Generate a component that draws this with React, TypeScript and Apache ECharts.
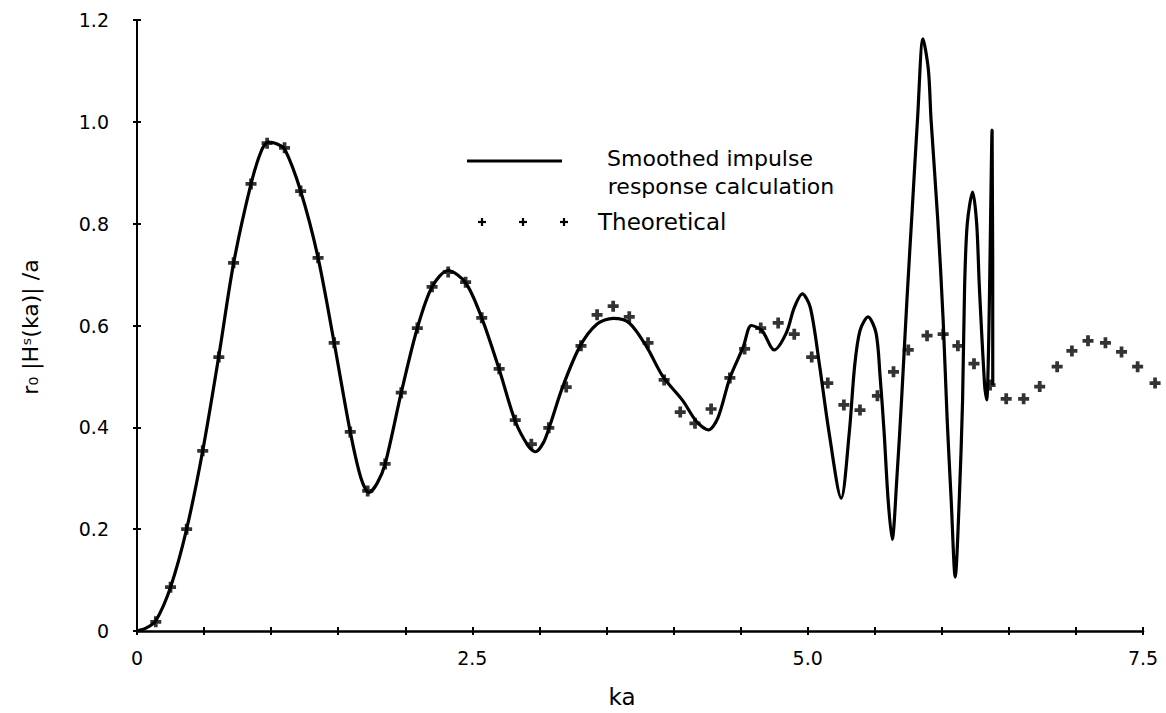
import React, { useEffect, useRef } from "react";
import * as echarts from "echarts";

// Smoothed impulse response calculation (solid line)
const KA_LINE = [
  0, 0.07, 0.14, 0.25, 0.37, 0.49, 0.61, 0.72, 0.85, 0.93, 0.98, 1.04, 1.1, 1.22, 1.35, 1.47, 1.59, 1.67,
  1.73, 1.79, 1.85, 1.97, 2.09, 2.2, 2.32, 2.45, 2.57, 2.7, 2.82, 2.92, 2.97, 3.03, 3.08, 3.17, 3.3, 3.43,
  3.55, 3.67, 3.8, 3.92, 4.07, 4.17, 4.26, 4.33, 4.42, 4.52, 4.58, 4.66, 4.75, 4.84, 4.9, 4.96, 5.02, 5.09,
  5.16, 5.25, 5.31, 5.35, 5.39, 5.45, 5.51, 5.54, 5.57, 5.6, 5.63, 5.665, 5.7, 5.74, 5.78, 5.82, 5.86, 5.9,
  5.92, 5.97, 6.01, 6.04, 6.07, 6.1, 6.13, 6.155, 6.17, 6.19, 6.23, 6.26, 6.28, 6.32, 6.335, 6.375, 6.38,
];
const Y_LINE = [
  0, 0.006, 0.02, 0.086, 0.2, 0.354, 0.54, 0.722, 0.878, 0.945, 0.96, 0.957, 0.947, 0.864, 0.733, 0.566,
  0.391, 0.3, 0.272, 0.29, 0.328, 0.468, 0.595, 0.676, 0.708, 0.684, 0.615, 0.514, 0.412, 0.362, 0.352,
  0.37, 0.405, 0.477, 0.558, 0.603, 0.614, 0.605, 0.558, 0.5, 0.452, 0.412, 0.395, 0.418, 0.497, 0.558,
  0.6, 0.59, 0.552, 0.585, 0.635, 0.662, 0.635, 0.519, 0.389, 0.261, 0.389, 0.52, 0.59, 0.617, 0.585, 0.5,
  0.39, 0.257, 0.18, 0.3, 0.454, 0.65, 0.83, 1.01, 1.163, 1.102, 1.004, 0.807, 0.611, 0.415, 0.257, 0.106,
  0.257, 0.454, 0.676, 0.8, 0.862, 0.8, 0.676, 0.48, 0.454, 0.984, 0.483,
];

// Theoretical (crosses)
const KA_THEO = [
  0.14, 0.25, 0.37, 0.49, 0.61, 0.72, 0.85, 0.97, 1.1, 1.22, 1.35, 1.47, 1.59, 1.72, 1.85, 1.97, 2.09, 2.2,
  2.32, 2.45, 2.57, 2.7, 2.82, 2.94, 3.07, 3.2, 3.31, 3.43, 3.55, 3.67, 3.81, 3.93, 4.05, 4.16, 4.28, 4.42,
  4.53, 4.65, 4.78, 4.9, 5.03, 5.15, 5.27, 5.39, 5.52, 5.64, 5.75, 5.89, 6.01, 6.12, 6.24, 6.36, 6.48, 6.61,
  6.73, 6.86, 6.97, 7.09, 7.22, 7.34, 7.46, 7.59,
];
const Y_THEO = [
  0.018, 0.086, 0.2, 0.354, 0.538, 0.723, 0.878, 0.958, 0.949, 0.864, 0.733, 0.566, 0.391, 0.275, 0.328,
  0.468, 0.595, 0.676, 0.705, 0.685, 0.615, 0.515, 0.414, 0.367, 0.399, 0.479, 0.56, 0.621, 0.638, 0.617,
  0.566, 0.493, 0.43, 0.408, 0.436, 0.497, 0.554, 0.595, 0.605, 0.583, 0.538, 0.487, 0.444, 0.434, 0.462,
  0.509, 0.552, 0.58, 0.583, 0.56, 0.525, 0.483, 0.456, 0.456, 0.48, 0.519, 0.55, 0.57, 0.566, 0.548,
  0.519, 0.487,
];

const X_TICK_LABELS: Record<string, string> = { "0": "0", "2.5": "2.5", "5": "5.0", "7.5": "7.5" };
const Y_TICK_LABELS: Record<string, string> = {
  "0": "0", "0.2": "0.2", "0.4": "0.4", "0.6": "0.6", "0.8": "0.8", "1": "1.0", "1.2": "1.2",
};

const X_NAME = "ka";
const Y_NAME = "r₀ |Hˢ(ka)| /a";
const LEGEND_LINE_1 = "Smoothed impulse";
const LEGEND_LINE_2 = "response calculation";
const LEGEND_THEO = "Theoretical";

const FONT = "'DejaVu Sans', 'Open Sans', sans-serif";
const INK = "#000";
const PLUS = "path://M3.3,0H6.7V3.3H10V6.7H6.7V10H3.3V6.7H0V3.3H3.3Z";

function plusMark(cx: number, cy: number, r: number) {
  return [
    { type: "line", shape: { x1: cx - r, y1: cy, x2: cx + r, y2: cy }, style: { stroke: INK, lineWidth: 2.2 } },
    { type: "line", shape: { x1: cx, y1: cy - r, x2: cx, y2: cy + r }, style: { stroke: INK, lineWidth: 2.2 } },
  ];
}

export default function App() {
  const ref = useRef<HTMLDivElement>(null);

  useEffect(() => {
    if (!ref.current) return;
    const chart = echarts.init(ref.current, undefined, { renderer: "svg" });

    const lineData = KA_LINE.map((k, i) => [k, Y_LINE[i]]);
    const theoData = KA_THEO.map((k, i) => [k, Y_THEO[i]]);

    const baseX = {
      type: "value",
      min: 0,
      max: 7.5,
      interval: 0.5,
      position: "bottom",
      splitLine: { show: false },
    };
    const baseY = {
      type: "value",
      min: 0,
      max: 1.2,
      interval: 0.2,
      position: "left",
      splitLine: { show: false },
    };

    chart.setOption({
      animation: false,
      backgroundColor: "#ffffff",
      grid: { left: 137, right: 23, top: 20, bottom: 82, containLabel: false },
      xAxis: [
        {
          ...baseX,
          axisLine: { show: true, onZero: false, lineStyle: { color: INK, width: 2.5 } },
          axisTick: { show: true, length: 4, lineStyle: { color: INK, width: 2 } },
          axisLabel: {
            show: true,
            margin: 17,
            fontFamily: FONT,
            fontSize: 19,
            color: INK,
            showMinLabel: true,
            showMaxLabel: true,
            formatter: (v: number) => X_TICK_LABELS[String(v)] ?? "",
          },
          name: X_NAME,
          nameLocation: "middle",
          nameGap: 54,
          nameTextStyle: { fontFamily: FONT, fontSize: 23, color: INK, padding: [0, 36, 0, 0] },
        },
        {
          ...baseX,
          axisLine: { show: false, onZero: false },
          axisTick: { show: true, inside: true, length: 4, lineStyle: { color: INK, width: 2 } },
          axisLabel: { show: false },
        },
      ],
      yAxis: [
        {
          ...baseY,
          axisLine: { show: true, onZero: false, lineStyle: { color: INK, width: 2 } },
          axisTick: { show: true, length: 4, lineStyle: { color: INK, width: 2 } },
          axisLabel: {
            show: true,
            margin: 28,
            fontFamily: FONT,
            fontSize: 19,
            color: INK,
            formatter: (v: number) => Y_TICK_LABELS[String(Math.round(v * 10) / 10)] ?? "",
          },
        },
        {
          ...baseY,
          axisLine: { show: false, onZero: false },
          axisTick: { show: true, inside: true, length: 4, lineStyle: { color: INK, width: 2 } },
          axisLabel: { show: false },
        },
      ],
      series: [
        {
          name: "Smoothed impulse response calculation",
          type: "line",
          data: lineData,
          xAxisIndex: 0,
          yAxisIndex: 0,
          smooth: 0.3,
          showSymbol: false,
          symbol: "none",
          lineStyle: { color: INK, width: 3.2 },
          z: 3,
        },
        {
          name: "Theoretical",
          type: "scatter",
          data: theoData,
          xAxisIndex: 0,
          yAxisIndex: 0,
          symbol: PLUS,
          symbolSize: 11,
          clip: false,
          itemStyle: { color: INK },
          z: 4,
        },
      ],
      graphic: [
        {
          type: "text",
          x: 30,
          y: 327,
          rotation: Math.PI / 2,
          style: {
            text: Y_NAME,
            fontFamily: FONT,
            fontSize: 22,
            fill: INK,
            align: "center",
            verticalAlign: "middle",
          },
        },
        { type: "line", shape: { x1: 467, y1: 161, x2: 562, y2: 161 }, style: { stroke: INK, lineWidth: 3 } },
        {
          type: "text",
          x: 710,
          y: 158,
          style: {
            text: LEGEND_LINE_1,
            fontFamily: FONT,
            fontSize: 22,
            lineHeight: 22,
            fill: INK,
            align: "center",
            verticalAlign: "middle",
          },
        },
        {
          type: "text",
          x: 721,
          y: 186,
          style: {
            text: LEGEND_LINE_2,
            fontFamily: FONT,
            fontSize: 22,
            lineHeight: 22,
            fill: INK,
            align: "center",
            verticalAlign: "middle",
          },
        },
        ...plusMark(482, 222, 4),
        ...plusMark(523, 222, 4),
        ...plusMark(564, 222, 4),
        {
          type: "text",
          x: 598,
          y: 222,
          style: { text: LEGEND_THEO, fontFamily: FONT, fontSize: 23, fill: INK, align: "left", verticalAlign: "middle" },
        },
      ],
    });

    return () => chart.dispose();
  }, []);

  return (
    <div
      ref={ref}
      style={{ position: "fixed", left: 0, top: 0, width: 1166, height: 713, background: "#fff" }}
    />
  );
}
